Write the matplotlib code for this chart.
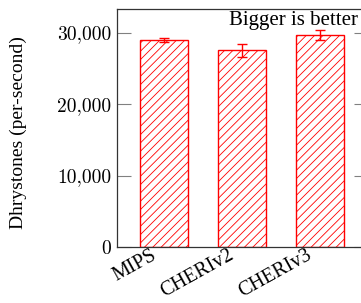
import matplotlib
matplotlib.use('Agg')
import matplotlib.pyplot as plt
import matplotlib.transforms as mtransforms
from matplotlib.ticker import FuncFormatter

plt.rcParams['hatch.linewidth'] = 0.6
plt.rcParams['hatch.color'] = 'red'

cpus = ['MIPS', 'CHERIv2', 'CHERIv3']
dhrystones = [28950, 27550, 29650]
errors = [300, 900, 700]

fig = plt.figure(figsize=(3.61, 3.03), dpi=100)
ax = fig.add_axes([116.5 / 361, 56 / 303, 251.5 / 361, 238 / 303])

x = range(len(cpus))
ax.bar(x, dhrystones, width=0.615, color='white', edgecolor='red',
       linewidth=1.0, hatch='////', yerr=errors,
       error_kw=dict(ecolor='red', capsize=3.5, elinewidth=1.0, capthick=1.0))

ax.set_xlim(-0.615, 2.615)
ax.set_ylim(0, 33300)
ax.set_yticks([0, 10000, 20000, 30000])
ax.yaxis.set_major_formatter(FuncFormatter(lambda v, p: '{:,}'.format(int(v))))
ax.tick_params(axis='y', direction='in', length=10, color='gray', width=0.8,
               right=True, labelsize=14, pad=4)
ax.tick_params(axis='x', length=0, labelsize=14.5, pad=-1)
ax.set_xticks(list(x))
ax.set_xticklabels(cpus, rotation=29, ha='right', rotation_mode='anchor')
shift = mtransforms.ScaledTranslation(-14 / 100, 0, fig.dpi_scale_trans)
for lab in ax.get_xticklabels():
    lab.set_transform(lab.get_transform() + shift)
    lab.set_family('Liberation Serif')
for lab in ax.get_yticklabels():
    lab.set_family('cmr10')

for s in ax.spines.values():
    s.set_color('#333333')
    s.set_linewidth(0.9)

ax.set_ylabel('Dhrystones (per-second)', fontsize=14, family='Liberation Serif')
ax.yaxis.set_label_coords(-0.356, 0.48)

ax.text(358 / 361, 1 - 25 / 303, 'Bigger is better', transform=fig.transFigure,
        ha='right', va='baseline', fontsize=15, family='Liberation Serif')

fig.savefig('out.png', dpi=100)
